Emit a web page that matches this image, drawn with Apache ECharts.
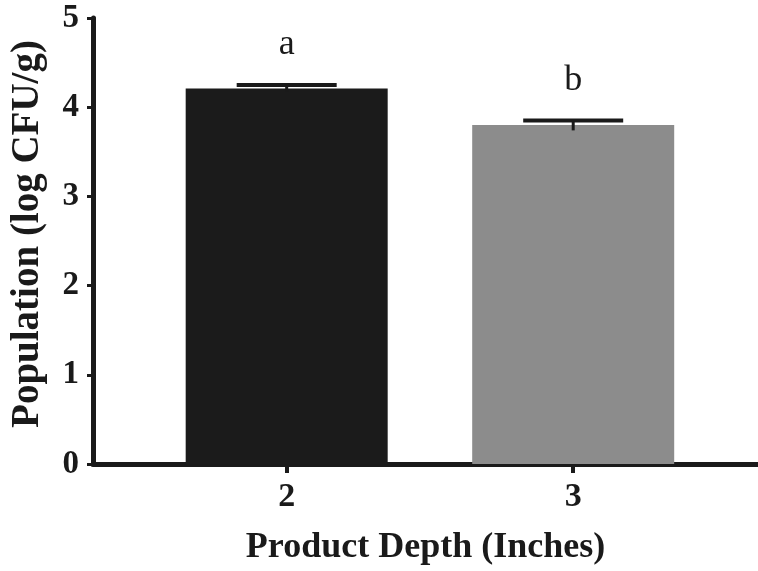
<!DOCTYPE html>
<html>
<head>
<meta charset="utf-8">
<script src="https://cdn.jsdelivr.net/npm/echarts@6/dist/echarts.min.js"></script>
<style>
html,body{margin:0;padding:0;background:#fff;overflow:hidden;}
#c{width:758px;height:571px;}
</style>
</head>
<body>
<div id="c"></div>
<script>
var depths = [2, 3];
var means = [4.21, 3.80];
var errLow = [4.17, 3.74];
var errHigh = [4.25, 3.85];
var letters = ['a', 'b'];
var barColors = ['#1b1b1b', '#8c8c8c'];
var yTicks = [0, 1, 2, 3, 4, 5];

var FONT = '"Liberation Serif", "DejaVu Serif", serif';
var chart = echarts.init(document.getElementById('c'), null, {renderer: 'canvas'});

var barData = depths.map(function (d, i) {
  return {value: [d, means[i]], itemStyle: {color: barColors[i]}};
});
var errData = depths.map(function (d, i) { return [d, errLow[i], errHigh[i]]; });

chart.setOption({
  backgroundColor: '#ffffff',
  animation: false,
  grid: {left: 92, top: 18, width: 666, height: 449, containLabel: false},
  xAxis: {
    type: 'value',
    min: 1.324,
    max: 3.645,
    splitLine: {show: false},
    axisLine: {show: true, onZero: false, lineStyle: {color: '#1a1a1a', width: 5}},
    axisTick: {show: true, customValues: depths, length: 9, lineStyle: {color: '#1a1a1a', width: 4}},
    axisLabel: {show: true, customValues: depths, margin: 16, fontFamily: FONT, fontWeight: 'bold', fontSize: 34, color: '#1a1a1a'},
    name: 'Product Depth (Inches)',
    nameLocation: 'middle',
    nameGap: 66,
    nameTextStyle: {fontFamily: FONT, fontWeight: 'bold', fontSize: 36, color: '#1a1a1a'}
  },
  yAxis: {
    type: 'value',
    min: 0,
    max: 5,
    interval: 1,
    splitLine: {show: false},
    axisLine: {show: true, lineStyle: {color: '#1a1a1a', width: 5}},
    axisTick: {show: true, length: 6, lineStyle: {color: '#1a1a1a', width: 3}},
    axisLabel: {margin: 14, fontFamily: FONT, fontWeight: 'bold', fontSize: 33, color: '#1a1a1a',
      customValues: yTicks},
    name: 'Population (log CFU/g)',
    nameLocation: 'middle',
    nameRotate: 90,
    nameGap: 46,
    nameTextStyle: {fontFamily: FONT, fontWeight: 'bold', fontSize: 39, color: '#1a1a1a', padding: [0, 0, 0, 14]}
  },
  series: [{
    type: 'bar',
    data: barData,
    barWidth: 202,
    label: {
      show: true,
      position: 'top',
      distance: 26,
      formatter: function (p) { return letters[p.dataIndex]; },
      fontFamily: FONT,
      fontSize: 36,
      color: '#1a1a1a'
    },
    z: 2
  }, {
    type: 'custom',
    data: errData,
    z: 3,
    renderItem: function (params, api) {
      var x = api.value(0);
      var lo = api.coord([x, api.value(1)]);
      var hi = api.coord([x, api.value(2)]);
      var half = 50;
      return {
        type: 'group',
        children: [
          {type: 'line', shape: {x1: lo[0], y1: lo[1], x2: hi[0], y2: hi[1]},
            style: {stroke: '#1a1a1a', lineWidth: 3}},
          {type: 'line', shape: {x1: hi[0] - half, y1: hi[1], x2: hi[0] + half, y2: hi[1]},
            style: {stroke: '#1a1a1a', lineWidth: 4}}
        ]
      };
    }
  }]
});
</script>
</body>
</html>
